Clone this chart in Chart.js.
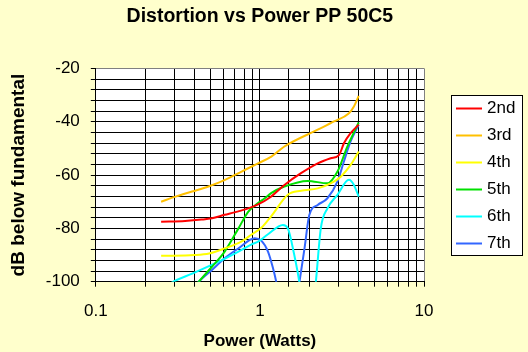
<!DOCTYPE html>
<html>
<head>
<meta charset="utf-8">
<title>Distortion vs Power PP 50C5</title>
<script src="https://cdn.jsdelivr.net/npm/chart.js@4.4.1/dist/chart.umd.min.js"></script>
<style>
  html, body { margin: 0; padding: 0; background: #ffffcc; }
  canvas { display: block; }
</style>
</head>
<body>
<canvas id="distortionChart" width="528" height="352"></canvas>
<script>
    // values: power in watts, level in dB below fundamental
    const seriesNames = ["2nd", "3rd", "4th", "5th", "6th", "7th"];
    const seriesColors = ["#ff0000", "#ffc000", "#ffff00", "#00e000", "#00ffff", "#3366ff"];

    const power2nd = [0.25, 0.35, 0.44, 0.51, 0.61, 0.70, 0.85, 0.975, 1.15, 1.41, 1.78, 2.25, 2.70, 3.04, 3.25, 3.57, 4.0];
    const db2nd = [-77.5, -77.2, -76.7, -76.2, -74.9, -74.0, -72.5, -71.0, -68.4, -63.7, -59.3, -55.6, -53.7, -52.4, -48.1, -44.3, -41.1];

    const power3rd = [0.25, 0.306, 0.386, 0.486, 0.613, 0.773, 0.975, 1.174, 1.41, 2.25, 2.83, 3.49, 3.74, 4.0];
    const db3rd = [-70.0, -68.1, -66.2, -64.3, -61.8, -58.7, -55.6, -53.1, -49.3, -43.0, -39.9, -36.8, -34.3, -30.3];

    const power4th = [0.25, 0.40, 0.49, 0.61, 0.77, 0.89, 1.02, 1.17, 1.48, 1.78, 2.25, 2.70, 3.11, 3.57, 4.0];
    const db4th = [-90.3, -90.0, -89.4, -87.5, -85.0, -82.3, -79.8, -75.5, -67.4, -65.9, -65.0, -63.1, -60.6, -56.2, -51.2];

    const power5th = [0.42, 0.51, 0.61, 0.74, 0.85, 0.975, 1.07, 1.17, 1.41, 1.95, 2.58, 2.97, 3.41, 4.0];
    const db5th = [-100.3, -94.4, -88.7, -80.0, -73.7, -70.5, -68.7, -66.8, -64.3, -62.2, -63.1, -58.7, -49.3, -40.3];

    const power6th = [0.25, 0.29, 0.39, 0.56, 0.74, 0.89, 0.975, 1.12, 1.38, 1.48, 1.62, 1.74, 1.95, 2.19, 2.35, 2.58, 2.97, 3.49, 3.74, 4.0];
    const db6th = [-103.0, -100.3, -96.9, -92.5, -88.7, -86.0, -85.0, -82.2, -78.7, -80.0, -90.0, -100.3, -125.0, -100.3, -80.0, -72.5, -67.4, -61.8, -63.7, -68.1];

    const power7th = [0.38, 0.42, 0.51, 0.61, 0.74, 0.93, 1.02, 1.12, 1.20, 1.26, 1.5, 1.74, 1.87, 2.0, 2.25, 2.58, 2.97, 3.25, 3.57, 4.0];
    const db7th = [-104.0, -100.3, -95.6, -91.2, -87.5, -83.7, -84.6, -88.7, -94.8, -100.3, -125.0, -100.3, -87.5, -75.0, -71.2, -68.7, -62.4, -54.9, -47.4, -41.1];

    const powerSeries = [power2nd, power3rd, power4th, power5th, power6th, power7th];
    const dbSeries = [db2nd, db3rd, db4th, db5th, db6th, db7th];

    const xTickLabels = [0.1, 1, 10];
    const yTickLabels = [-100, -80, -60, -40, -20];

    const FONT = "'Liberation Sans', Arial, sans-serif";
    Chart.defaults.font.family = FONT;
    Chart.defaults.color = "#000";

    function buildDatasets() {
      return seriesNames.map((name, i) => ({
        label: name,
        data: powerSeries[i].map((p, j) => ({ x: p, y: dbSeries[i][j] })),
        borderColor: seriesColors[i],
        backgroundColor: seriesColors[i],
        borderWidth: 2,
        pointRadius: 0,
        fill: false,
        cubicInterpolationMode: "monotone"
      }));
    }

    function isDecade(value) {
      return xTickLabels.some((v) => Math.abs(v - value) < 1e-9);
    }

    // yellow page, white plot area
    const backgroundPlugin = {
      id: "background",
      beforeDraw(chart) {
        const { ctx, chartArea } = chart;
        ctx.save();
        ctx.fillStyle = "#ffffcc";
        ctx.fillRect(0, 0, chart.width, chart.height);
        ctx.fillStyle = "#ffffff";
        ctx.fillRect(chartArea.left, chartArea.top, chartArea.right - chartArea.left, chartArea.bottom - chartArea.top);
        ctx.restore();
      }
    };

    // boxed legend on the right like the original
    const boxLegendPlugin = {
      id: "boxLegend",
      afterDraw(chart) {
        const { ctx } = chart;
        const boxLeft = 451.5;
        const boxTop = 95.5;
        const boxWidth = 71;
        const boxHeight = 160;
        const firstRow = 108.5;
        const rowGap = 27;

        ctx.save();
        ctx.fillStyle = "#ffffff";
        ctx.fillRect(boxLeft, boxTop, boxWidth, boxHeight);
        ctx.strokeStyle = "#000";
        ctx.lineWidth = 1;
        ctx.strokeRect(boxLeft, boxTop, boxWidth, boxHeight);

        ctx.font = "17px " + FONT;
        ctx.textBaseline = "middle";
        ctx.textAlign = "left";
        chart.data.datasets.forEach((dataset, i) => {
          const y = firstRow + i * rowGap;
          ctx.strokeStyle = dataset.borderColor;
          ctx.lineWidth = 2;
          ctx.beginPath();
          ctx.moveTo(456, y);
          ctx.lineTo(482, y);
          ctx.stroke();
          ctx.fillStyle = "#000";
          ctx.fillText(dataset.label, 487, y);
        });
        ctx.restore();
      }
    };

    new Chart(document.getElementById("distortionChart"), {
      type: "line",
      data: { datasets: buildDatasets() },
      plugins: [backgroundPlugin, boxLegendPlugin],
      options: {
        responsive: false,
        animation: false,
        events: [],
        layout: { padding: { left: 0, right: 104, top: 0, bottom: 0 } },
        plugins: {
          legend: { display: false },
          tooltip: { enabled: false },
          title: {
            display: true,
            text: "Distortion vs Power PP 50C5",
            fullSize: false,
            color: "#000",
            font: { size: 19.5, weight: "bold" },
            padding: { top: 5, bottom: 40 }
          }
        },
        scales: {
          x: {
            type: "logarithmic",
            min: 0.1,
            max: 10,
            grid: {
              color: (ctx) => (ctx.tick && ctx.tick.value === 10 ? "#808080" : "#000"),
              tickColor: "#000",
              lineWidth: 1,
              tickLength: 5
            },
            border: { color: "#000", width: 1 },
            ticks: {
              autoSkip: false,
              maxRotation: 0,
              padding: 14,
              font: { size: 17 },
              color: "#000",
              callback: (value) => (isDecade(value) ? String(value) : "")
            },
            title: {
              display: true,
              text: "Power (Watts)",
              color: "#000",
              font: { size: 17, weight: "bold", lineHeight: 0.7 },
              padding: { top: 0, bottom: 5 }
            }
          },
          y: {
            min: -100,
            max: -20,
            grid: {
              color: (ctx) => (ctx.tick && ctx.tick.value === -20 ? "#808080" : "#000"),
              tickColor: "#000",
              lineWidth: 1,
              tickLength: 5
            },
            border: { color: "#000", width: 1 },
            ticks: {
              stepSize: 4,
              autoSkip: false,
              padding: 11,
              font: { size: 17 },
              color: "#000",
              callback: (value) => (yTickLabels.includes(value) ? String(value) : "")
            },
            title: {
              display: true,
              text: "dB below fundamental",
              color: "#000",
              font: { size: 19, weight: "bold" },
              padding: { top: 7, bottom: 5 }
            }
          }
        }
      }
    });
</script>
</body>
</html>
